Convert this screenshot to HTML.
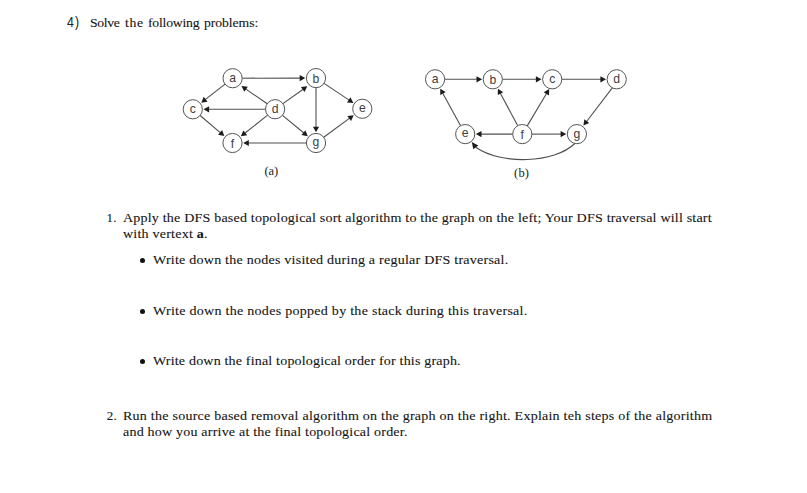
<!DOCTYPE html>
<html><head><meta charset="utf-8"><style>
html,body{margin:0;padding:0;background:#fff;width:807px;height:493px;overflow:hidden;position:relative}
.t{position:absolute;white-space:pre;color:#151515;line-height:normal;transform-origin:0 0;-webkit-text-stroke:0.1px #151515}
.bul{position:absolute;width:5.3px;height:5.3px;border-radius:50%;background:#111}
b{font-weight:bold}
</style></head><body>
<svg width="807" height="493" style="position:absolute;left:0;top:0"><g stroke="#4f4f4f" stroke-width="1.1" fill="none"><line x1="242.20" y1="78.19" x2="300.70" y2="78.12"/><line x1="225.04" y1="84.11" x2="204.86" y2="99.88"/><line x1="267.19" y1="103.76" x2="245.21" y2="88.66"/><line x1="282.92" y1="103.63" x2="303.53" y2="88.97"/><line x1="265.50" y1="109.21" x2="208.10" y2="109.28"/><line x1="267.58" y1="115.17" x2="244.49" y2="133.49"/><line x1="282.50" y1="115.32" x2="304.21" y2="133.25"/><line x1="200.12" y1="115.51" x2="220.84" y2="133.10"/><line x1="316.00" y1="87.70" x2="316.00" y2="127.70"/><line x1="324.00" y1="83.41" x2="349.55" y2="100.34"/><line x1="323.72" y1="137.30" x2="349.99" y2="117.89"/><line x1="306.40" y1="143.00" x2="247.80" y2="143.00"/><line x1="444.70" y1="79.30" x2="477.50" y2="79.30"/><line x1="502.40" y1="79.30" x2="536.90" y2="79.30"/><line x1="561.80" y1="79.30" x2="601.40" y2="79.30"/><line x1="460.58" y1="125.69" x2="442.47" y2="92.71"/><line x1="517.75" y1="125.65" x2="500.05" y2="92.77"/><line x1="527.22" y1="125.86" x2="546.86" y2="92.94"/><line x1="512.70" y1="134.10" x2="480.50" y2="134.10"/><line x1="531.90" y1="134.10" x2="561.60" y2="134.10"/><line x1="613.06" y1="86.92" x2="586.21" y2="121.96"/><path d="M574.8,143.5 C554.5,163.4 501.5,165.1 475.7,147.2" fill="none"/></g><g fill="#1c1c1c" stroke="none"><polygon points="305.30,78.11 299.70,81.22 299.70,75.02"/><polygon points="201.23,102.71 203.74,96.82 207.55,101.71"/><polygon points="241.42,86.06 247.79,86.68 244.28,91.79"/><polygon points="307.28,86.30 304.52,92.08 300.92,87.02"/><polygon points="203.50,109.29 209.10,106.18 209.10,112.38"/><polygon points="240.88,136.35 243.34,130.44 247.20,135.30"/><polygon points="307.75,136.18 301.46,135.01 305.41,130.23"/><polygon points="224.34,136.08 218.07,134.81 222.08,130.09"/><polygon points="316.00,132.30 312.90,126.70 319.10,126.70"/><polygon points="353.38,102.89 347.00,102.38 350.43,97.21"/><polygon points="353.69,115.16 351.03,120.98 347.35,115.99"/><polygon points="243.20,143.00 248.80,139.90 248.80,146.10"/><polygon points="482.10,79.30 476.50,82.40 476.50,76.20"/><polygon points="541.50,79.30 535.90,82.40 535.90,76.20"/><polygon points="606.00,79.30 600.40,82.40 600.40,76.20"/><polygon points="440.25,88.68 445.66,92.09 440.23,95.08"/><polygon points="497.87,88.72 503.26,92.18 497.80,95.12"/><polygon points="549.22,88.99 549.01,95.39 543.69,92.21"/><polygon points="475.90,134.10 481.50,131.00 481.50,137.20"/><polygon points="566.20,134.10 560.60,137.20 560.60,131.00"/><polygon points="583.41,125.61 584.35,119.28 589.28,123.05"/><polygon points="471.8,142 478.3,145.5 473.3,149.2"/></g><g stroke="#555" stroke-width="1" fill="#fff"><circle cx="232.6" cy="78.2" r="9.6"/><circle cx="316.0" cy="78.1" r="9.6"/><circle cx="192.8" cy="109.3" r="9.6"/><circle cx="275.1" cy="109.2" r="9.6"/><circle cx="362.3" cy="108.8" r="9.6"/><circle cx="232.5" cy="143.0" r="9.6"/><circle cx="316.0" cy="143.0" r="9.6"/><circle cx="435.1" cy="79.3" r="9.6"/><circle cx="492.8" cy="79.3" r="9.6"/><circle cx="552.2" cy="79.3" r="9.6"/><circle cx="616.7" cy="79.3" r="9.6"/><circle cx="465.2" cy="134.1" r="9.6"/><circle cx="522.3" cy="134.1" r="9.6"/><circle cx="576.9" cy="134.1" r="9.6"/></g><g fill="#404040" font-family="Liberation Sans, sans-serif" font-size="12.2" text-anchor="middle"><text x="232.6" y="81.50">a</text><text x="316.0" y="82.70">b</text><text x="192.8" y="112.60">c</text><text x="275.1" y="113.10">d</text><text x="362.3" y="112.10">e</text><text x="232.5" y="147.50">f</text><text x="316.0" y="146.40">g</text><text x="435.1" y="82.60">a</text><text x="492.8" y="83.90">b</text><text x="552.2" y="82.60">c</text><text x="616.7" y="83.20">d</text><text x="465.2" y="137.40">e</text><text x="522.3" y="138.60">f</text><text x="576.9" y="137.50">g</text></g></svg>
<div class='t' style='-webkit-text-stroke:0;color:#222;left:66.60px;top:13.97px;font-family:"Liberation Sans", sans-serif;font-size:14.4px;letter-spacing:1.300px;transform:scaleX(0.86);'>4)</div><div class='t' style='left:90.00px;top:15.04px;font-family:"Liberation Serif", serif;font-size:13.2px;letter-spacing:-0.348px;transform:scaleX(1.04);'>Solve</div><div class='t' style='left:125.00px;top:15.04px;font-family:"Liberation Serif", serif;font-size:13.2px;letter-spacing:0.591px;transform:scaleX(1.04);'>the</div><div class='t' style='left:147.90px;top:15.04px;font-family:"Liberation Serif", serif;font-size:13.2px;letter-spacing:-0.210px;transform:scaleX(1.04);'>following</div><div class='t' style='left:204.30px;top:15.04px;font-family:"Liberation Serif", serif;font-size:13.2px;letter-spacing:-0.079px;transform:scaleX(1.04);'>problems:</div><div class='t' style='-webkit-text-stroke:0;color:#222;left:264.50px;top:164.06px;font-family:"Liberation Serif", serif;font-size:12.5px;letter-spacing:-0.088px;'>(a)</div><div class='t' style='-webkit-text-stroke:0;color:#222;left:514.10px;top:165.86px;font-family:"Liberation Serif", serif;font-size:12.5px;letter-spacing:0.161px;'>(b)</div><div class='t' style='left:106.60px;top:210.22px;font-family:"Liberation Serif", serif;font-size:13px;letter-spacing:0.198px;'>1.</div><div class='t' style='left:123.40px;top:210.22px;font-family:"Liberation Serif", serif;font-size:13px;letter-spacing:0.177px;transform:scaleX(1.08);'>Apply the DFS based topological sort algorithm to the graph on the left; Your DFS traversal will start</div><div class='t' style='left:123.40px;top:226.12px;font-family:"Liberation Serif", serif;font-size:13px;letter-spacing:0.198px;transform:scaleX(1.08);'>with vertext <b>a</b>.</div><div class='t' style='left:152.80px;top:252.42px;font-family:"Liberation Serif", serif;font-size:13px;letter-spacing:0.211px;transform:scaleX(1.08);'>Write down the nodes visited during a regular DFS traversal.</div><div class='t' style='left:152.90px;top:303.22px;font-family:"Liberation Serif", serif;font-size:13px;letter-spacing:0.247px;transform:scaleX(1.08);'>Write down the nodes popped by the stack during this traversal.</div><div class='t' style='left:152.90px;top:353.12px;font-family:"Liberation Serif", serif;font-size:13px;letter-spacing:0.159px;transform:scaleX(1.08);'>Write down the final topological order for this graph.</div><div class='t' style='left:106.70px;top:408.22px;font-family:"Liberation Serif", serif;font-size:13px;letter-spacing:0.198px;'>2.</div><div class='t' style='left:123.40px;top:408.22px;font-family:"Liberation Serif", serif;font-size:13px;letter-spacing:0.215px;transform:scaleX(1.08);'>Run the source based removal algorithm on the graph on the right. Explain teh steps of the algorithm</div><div class='t' style='left:123.40px;top:424.12px;font-family:"Liberation Serif", serif;font-size:13px;letter-spacing:0.180px;transform:scaleX(1.08);'>and how you arrive at the final topological order.</div>
<div class="bul" style="left:139.75px;top:257.75px"></div>
<div class="bul" style="left:139.75px;top:308.85px"></div>
<div class="bul" style="left:139.75px;top:358.75px"></div>
</body></html>
